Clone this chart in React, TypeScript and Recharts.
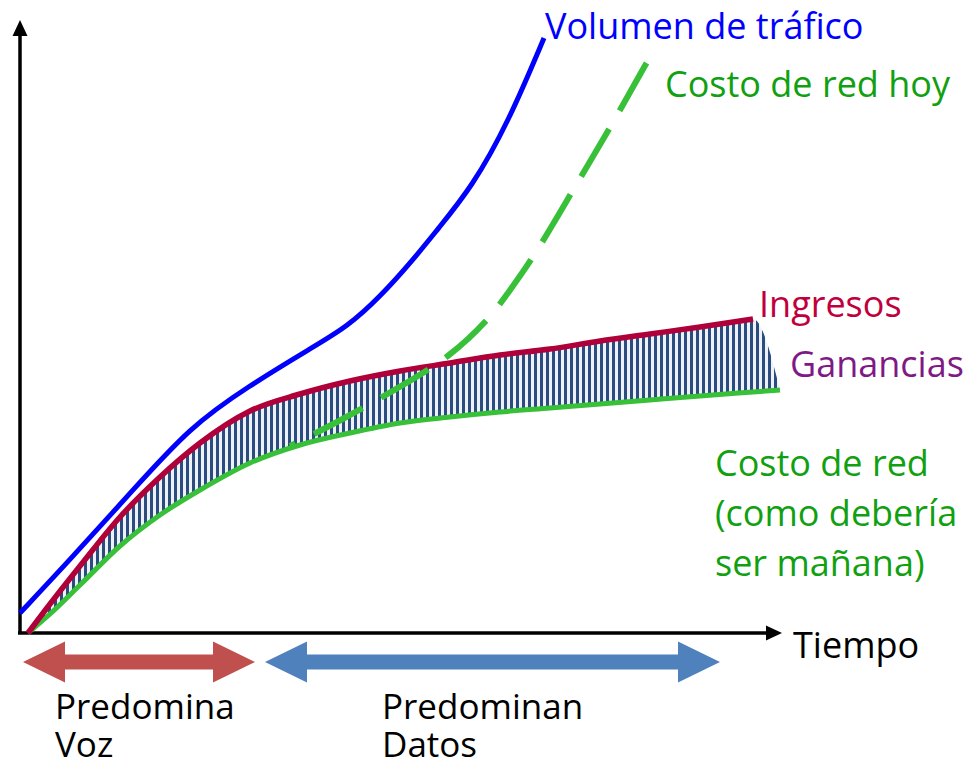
import {
  ComposedChart,
  Line,
  Area,
  XAxis,
  YAxis,
  ReferenceLine,
  ReferenceDot,
} from 'recharts'

// units: x = time, y = magnitude (arbitrary)
const CURVE_X = [8, 30, 60, 100, 140, 180, 230, 280, 330, 380, 430, 480, 530, 580, 630, 680, 733, 760]
const INGRESOS = [0, 29, 67, 116, 156, 190, 222, 239, 252, 262, 270, 278, 284, 292, 299, 306, 314]
const COSTO_MANANA = [0, 19, 48, 87, 118, 143, 170, 188, 200, 210, 216, 221, 225, 229, 233, 237, 241, 243]

const VOLUMEN_X = [0, 47, 113, 170, 227, 293, 327, 360, 393, 417, 452, 488, 524]
const VOLUMEN = [20, 70, 143, 206, 246, 286, 306, 336, 373, 403, 446, 510, 595]

const COSTO_HOY_X = [270, 320, 380, 430, 470, 485, 514, 553, 593, 631]
const COSTO_HOY = [187, 212, 246, 276, 315, 336, 376, 443, 510, 578]

// periods shown under the time axis
const PERIODS = [
  { label: ['Predomina', 'Voz'], from: 3, to: 235, textX: 35, color: '#c0504d' },
  { label: ['Predominan', 'Datos'], from: 245, to: 700, textX: 362, color: '#4f81bd' },
]

const LABELS = [
  { lines: ['Volumen de tráfico'], x: 525, y: 594, color: '#0000ff' },
  { lines: ['Costo de red hoy'], x: 645, y: 536, color: '#10a010' },
  { lines: ['Ingresos'], x: 739, y: 316, color: '#c0003c' },
  { lines: ['Ganancias'], x: 770, y: 256, color: '#7f1a85' },
  { lines: ['Costo de red', '(como debería', 'ser mañana)'], x: 695, y: 157, color: '#10a010' },
  { lines: ['Tiempo'], x: 773, y: -25, color: '#000' },
]

const FONT = "'Open Sans', sans-serif"

const volumenData = VOLUMEN_X.map((x, i) => ({ x, y: VOLUMEN[i] }))
const hoyData = COSTO_HOY_X.map((x, i) => ({ x, y: COSTO_HOY[i] }))
const ingresosData = INGRESOS.map((y, i) => ({ x: CURVE_X[i], y }))
const mananaData = COSTO_MANANA.map((y, i) => ({ x: CURVE_X[i], y }))
const gananciasData = CURVE_X.map((x, i) => ({
  x,
  band: [COSTO_MANANA[i], INGRESOS[i] ?? COSTO_MANANA[i]],
}))

const AxisArrow = (props: any) => {
  const { x1, y1, x2, y2 } = props
  const dx = x2 - x1
  const dy = y2 - y1
  const len = Math.hypot(dx, dy)
  const ux = dx / len
  const uy = dy / len
  const head = 16
  const half = 7.5
  const bx = x2 - ux * head
  const by = y2 - uy * head
  return (
    <g>
      <line x1={x1} y1={y1} x2={bx} y2={by} stroke="#000" strokeWidth={3.5} />
      <polygon
        points={`${x2},${y2} ${bx - uy * half},${by + ux * half} ${bx + uy * half},${by - ux * half}`}
        fill="#000"
      />
    </g>
  )
}

const DoubleArrow = (color: string) => (props: any) => {
  const { x1, x2, y1 } = props
  const a = Math.min(x1, x2)
  const b = Math.max(x1, x2)
  const h = 42
  const H = 20.5
  const s = 7.5
  const pts = [
    [a, y1], [a + h, y1 - H], [a + h, y1 - s], [b - h, y1 - s], [b - h, y1 - H],
    [b, y1], [b - h, y1 + H], [b - h, y1 + s], [a + h, y1 + s], [a + h, y1 + H],
  ]
  return <polygon points={pts.map((p) => p.join(',')).join(' ')} fill={color} />
}

const TextBlock = (lines: string[], color: string, lineHeight: number, size = 36) => (props: any) => {
  const { cx, cy } = props
  return (
    <text x={cx} y={cy} fill={color} fontSize={size} fontFamily={FONT}>
      {lines.map((t, i) => (
        <tspan key={i} x={cx} y={cy + i * lineHeight}>
          {t}
        </tspan>
      ))}
    </text>
  )
}

export default function App() {
  return (
    <div>
      <style>{`body{margin:0}`}</style>
      <ComposedChart width={967} height={767} margin={{ top: 0, right: 0, bottom: 0, left: 0 }}>
        <defs>
          <pattern id="hatch" width="6" height="10" patternUnits="userSpaceOnUse">
            <rect width="6" height="10" fill="#eef2f8" />
            <rect width="3" height="10" fill="#2a4c7e" />
          </pattern>
        </defs>
        <XAxis type="number" dataKey="x" domain={[-20, 947]} allowDataOverflow hide />
        <YAxis type="number" domain={[-134, 633]} allowDataOverflow hide />

        <ReferenceLine
          segment={[{ x: 0, y: -1 }, { x: 0, y: 613 }]}
          ifOverflow="visible"
          shape={AxisArrow}
        />
        <ReferenceLine
          segment={[{ x: -2, y: 0 }, { x: 762, y: 0 }]}
          ifOverflow="visible"
          shape={AxisArrow}
        />

        <Area
          data={gananciasData}
          dataKey="band"
          type="monotone"
          stroke="none"
          fill="url(#hatch)"
          fillOpacity={1}
          activeDot={false}
          isAnimationActive={false}
        />
        <Line
          data={mananaData}
          dataKey="y"
          type="monotone"
          stroke="#38c038"
          strokeWidth={5}
          dot={false}
          activeDot={false}
          isAnimationActive={false}
        />
        <Line
          data={ingresosData}
          dataKey="y"
          type="monotone"
          stroke="#b0003a"
          strokeWidth={5.5}
          dot={false}
          activeDot={false}
          isAnimationActive={false}
        />
        <Line
          data={hoyData}
          dataKey="y"
          type="basis"
          stroke="#38c038"
          strokeWidth={6}
          strokeDasharray="55 21"
          strokeDashoffset={49}
          dot={false}
          activeDot={false}
          isAnimationActive={false}
        />
        <Line
          data={volumenData}
          dataKey="y"
          type="basis"
          stroke="#0000ff"
          strokeWidth={5}
          dot={false}
          activeDot={false}
          isAnimationActive={false}
        />

        {PERIODS.map((p) => (
          <ReferenceLine
            key={p.label[0]}
            segment={[{ x: p.from, y: -29 }, { x: p.to, y: -29 }]}
            ifOverflow="visible"
            shape={DoubleArrow(p.color)}
          />
        ))}
        {PERIODS.map((p) => (
          <ReferenceDot
            key={'t' + p.label[0]}
            x={p.textX}
            y={-86}
            r={0}
            ifOverflow="visible"
            shape={TextBlock(p.label, '#000', 38, 35)}
          />
        ))}
        {LABELS.map((l) => (
          <ReferenceDot
            key={l.lines[0]}
            x={l.x}
            y={l.y}
            r={0}
            ifOverflow="visible"
            shape={TextBlock(l.lines, l.color, 50)}
          />
        ))}
      </ComposedChart>
    </div>
  )
}
